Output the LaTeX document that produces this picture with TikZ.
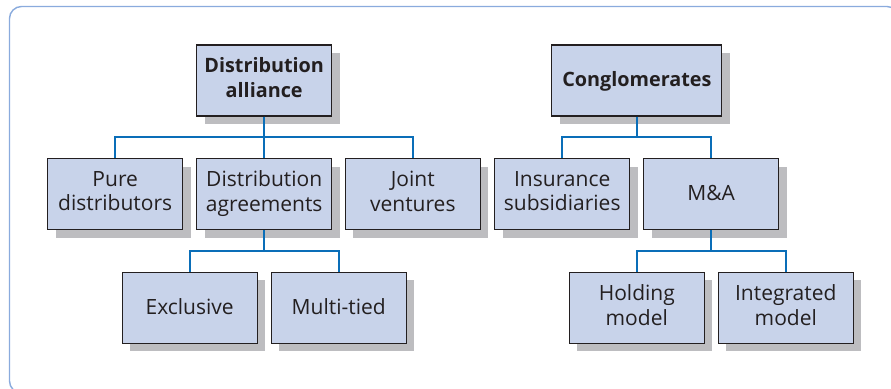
\documentclass[tikz,border=0pt]{standalone}
\usepackage{fontspec}
\setmainfont{Open Sans}
\usetikzlibrary{shadows}
\definecolor{boxblue}{RGB}{200, 211, 234}
\definecolor{shadowgray}{RGB}{189, 189, 192}
\definecolor{linkblue}{RGB}{10, 110, 184}
\definecolor{frameblue}{RGB}{138, 171, 221}
\definecolor{textdark}{RGB}{35, 31, 32}
\newcommand{\boxstrut}{\rule[-6.05pt]{0pt}{24.7pt}}

\begin{document}
\begin{tikzpicture}[x=1pt, y=-1pt,
    box/.style={draw=textdark, line width=1.1pt, fill=boxblue, text=textdark,
      minimum width=135pt, minimum height=71pt, align=center, inner sep=0pt,
      font=\fontsize{21}{24.7}\selectfont,
      execute at begin node=\boxstrut, execute at end node=\boxstrut,
      drop shadow={shadow xshift=8pt, shadow yshift=-8pt, fill=shadowgray, opacity=1}},
    topbox/.style={box, font=\fontsize{19.8}{24.7}\selectfont\bfseries},
    link/.style={draw=linkblue, line width=1.8pt}]
      \clip (0, 0) rectangle (891, 388);
      \draw [frameblue, line width=1.4pt, rounded corners=12] (9.5, 6.5) rectangle (899, 393);

      \node [topbox] (alliance) at (264.2, 80.5) {Distribution\\alliance};
      \node [box] (pure) at (115.2, 194) {Pure\\distributors};
      \node [box] (agree) at (264.2, 194) {Distribution\\agreements};
      \node [box] (joint) at (412.8, 194) {Joint\\ventures};
      \node [box] (exclusive) at (189.7, 307.7) {Exclusive};
      \node [box] (multi) at (338.7, 307.7) {Multi-tied};

      \node [topbox, minimum width=170pt] (congl) at (636.9, 80.5) {Conglomerates};
      \node [box] (insur) at (562.2, 194) {Insurance\\subsidiaries};
      \node [box] (ma) at (711.2, 194) {M\&A};
      \node [box] (holding) at (636.8, 307.7) {Holding\\model};
      \node [box] (integ) at (785.8, 307.7) {Integrated\\model};

      \foreach \child in {pure, agree, joint}
        \draw [link] (alliance.south) -- ++(0, 20.7) -| (\child.north);
      \foreach \child in {exclusive, multi}
        \draw [link] (agree.south) -- ++(0, 21.3) -| (\child.north);
      \foreach \child in {insur, ma}
        \draw [link] (congl.south) -- ++(0, 20.7) -| (\child.north);
      \foreach \child in {holding, integ}
        \draw [link] (ma.south) -- ++(0, 21.3) -| (\child.north);
    \end{tikzpicture}
\end{document}
